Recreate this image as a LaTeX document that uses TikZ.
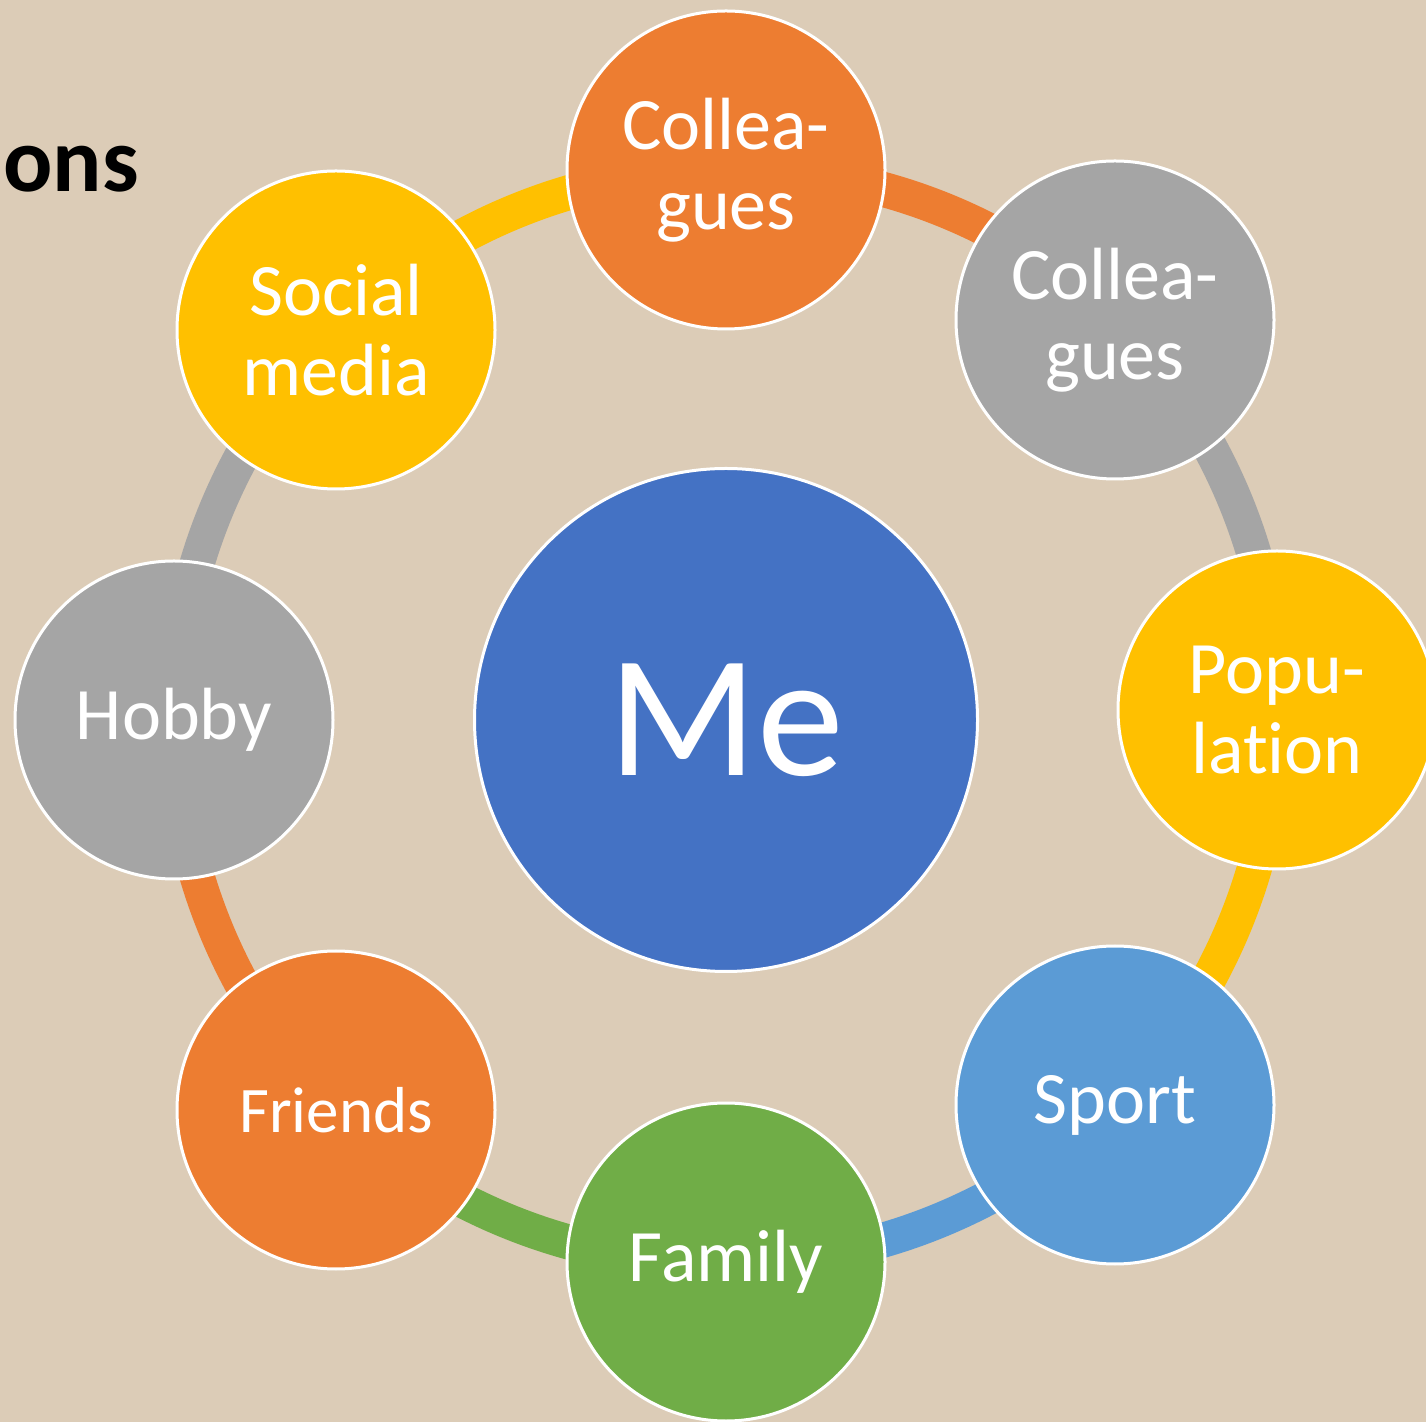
\documentclass[tikz,border=0pt]{standalone}
\usepackage{fontspec}
\setmainfont{Carlito}[Ligatures={NoCommon,NoRare}]
\definecolor{paper}{RGB}{220,204,183}
\definecolor{corange}{HTML}{ED7D31}
\definecolor{cgray}{HTML}{A5A5A5}
\definecolor{cyellow}{HTML}{FFC000}
\definecolor{cblue}{HTML}{4472C4}
\definecolor{clblue}{HTML}{5B9BD5}
\definecolor{cgreen}{HTML}{70AD47}
\pgfdeclarelayer{bg}
\pgfdeclarelayer{rings}
\pgfsetlayers{bg,rings,main}
\begin{document}
\begin{tikzpicture}[x=1pt,y=1pt,
  bubble/.style={circle, draw=white, line width=3pt, minimum size=318pt, inner sep=0pt,
    text=white, align=center, font=\fontsize{74}{80}\selectfont},
  ringarc/.style={line width=35pt, bend left=22.5, looseness=0.88}]
\useasboundingbox (0,0) rectangle (1426,1422);
\begin{pgfonlayer}{bg}
\fill[paper] (0,0) rectangle (1426,1422);
\end{pgfonlayer}

\node[anchor=base west, inner sep=0pt, font=\fontsize{92}{100}\selectfont\bfseries] (title) at (3,1230) {ons};

\node[circle, draw=white, line width=3pt, minimum size=503pt, inner sep=0pt, fill=cblue,
  text=white, font=\fontsize{174}{180}\selectfont] (me) at (726,702) {Me};

\node[bubble, fill=corange] (colO) at (726,1252) {Collea-\\gues};
\node[bubble, fill=cgray] (colG) at (1115,1102) {Collea-\\gues};
\node[bubble, fill=cyellow] (pop) at (1277,712) {Popu-\\lation};
\node[bubble, fill=clblue] (sport) at (1115,317) {Sport};
\node[bubble, fill=cgreen] (family) at (726,160) {Family};
\node[bubble, fill=corange, font=\fontsize{65}{72}\selectfont] (friends) at (336,312) {Friends};
\node[bubble, fill=cgray] (hobby) at (174,702) {Hobby};
\node[bubble, fill=cyellow] (social) at (336,1092) {Social\\media};

\begin{pgfonlayer}{rings}
\draw[ringarc, corange] (colO.center) to (colG.center);
\draw[ringarc, cgray] (colG.center) to (pop.center);
\draw[ringarc, cyellow] (pop.center) to (sport.center);
\draw[ringarc, clblue] (sport.center) to (family.center);
\draw[ringarc, cgreen] (family.center) to (friends.center);
\draw[ringarc, corange] (friends.center) to (hobby.center);
\draw[ringarc, cgray] (hobby.center) to (social.center);
\draw[ringarc, cyellow] (social.center) to (colO.center);
\end{pgfonlayer}
\end{tikzpicture}
\end{document}
